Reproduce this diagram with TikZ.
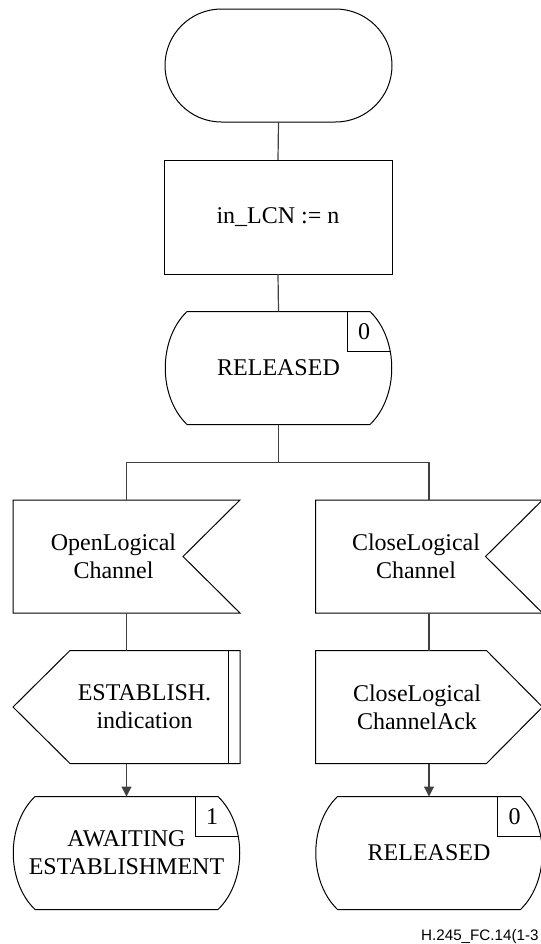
\documentclass[tikz,border=0pt]{standalone}
\usepackage{fontspec}
\setmainfont{Liberation Serif}
\newfontfamily\tagfont{Liberation Sans}
\usetikzlibrary{shapes.misc, arrows.meta, calc}

\newcommand{\stateoutline}[1]{($(#1.north west)+(22,0)$) -- ($(#1.north east)+(-22,0)$)
  .. controls ($(#1.north east)+(7,28)$) and ($(#1.south east)+(7,-28)$) .. ($(#1.south east)+(-22,0)$)
  -- ($(#1.south west)+(22,0)$)
  .. controls ($(#1.south west)+(-7,-28)$) and ($(#1.north west)+(-7,28)$) .. cycle}

\newcommand{\sdlstate}[4]{%
  \node[sdlbody] (#1) at (#2) {};
  \draw[sdlline] \stateoutline{#1};
  \begin{scope}
    \clip \stateoutline{#1};
    \draw[sdlline] ($(#1.north east)+(-45,0)$) rectangle ($(#1.north east)+(10,40)$);
  \end{scope}
  \node[sdltext] (#1-num) at ($(#1.north east)+(-28,20)$) {#4};
  \node[sdltext] (#1-txt) at (#1.center) {#3};
}

\newcommand{\sdlinput}[3]{%
  \node[sdlbody] (#1) at (#2) {};
  \draw[sdlline] (#1.north west) -- (#1.north east) -- ($(#1.east)+(-57,0)$)
    -- (#1.south east) -- (#1.south west) -- cycle;
  \node[sdltext] (#1-txt) at ($(#1.center)+(-13,0)$) {#3};
}

\newcommand{\sdloutleft}[3]{%
  \node[sdlbody] (#1) at (#2) {};
  \draw[sdlline] ($(#1.north west)+(57,0)$) -- (#1.north east) -- (#1.south east)
    -- ($(#1.south west)+(57,0)$) -- (#1.west) -- cycle;
  \draw[sdlline] ($(#1.north east)+(-12,0)$) -- ($(#1.south east)+(-12,0)$);
  \node[sdltext] (#1-txt) at ($(#1.center)+(18,0)$) {#3};
}

\newcommand{\sdloutright}[3]{%
  \node[sdlbody] (#1) at (#2) {};
  \draw[sdlline] (#1.north west) -- ($(#1.north east)+(-56,0)$) -- (#1.east)
    -- ($(#1.south east)+(-56,0)$) -- (#1.south west) -- cycle;
  \node[sdltext] (#1-txt) at ($(#1.center)+(-12,0)$) {#3};
}

\begin{document}
\begin{tikzpicture}[x=0.5pt, y=-0.5pt,
  sdlbody/.style={minimum width=113.5pt, minimum height=56.5pt, inner sep=0pt, outer sep=0pt},
  sdlline/.style={line width=0.5pt, black},
  sdlwire/.style={line width=0.6pt, black!75},
  sdltext/.style={align=center, font=\fontsize{12}{14}\selectfont, inner sep=0pt},
  sdlterm/.style={sdlbody, sdlline, draw, rounded rectangle},
  sdltask/.style={sdlbody, sdlline, draw, minimum width=114pt, minimum height=57pt, font=\fontsize{12}{14}\selectfont},
  sdltag/.style={font=\tagfont\fontsize{7.6}{9}\selectfont, inner sep=0pt}
]
  \useasboundingbox (0,0) rectangle (541,944);

  \node[sdlterm] (start) at (278.5,65.5) {};
  \node[sdltask] (lcn) at (278,217) {in\_LCN := n};
  \sdlstate{rel}{278.5,368}{RELEASED}{0}

  \sdlinput{openlc}{126.5,556.5}{OpenLogical\\Channel}
  \sdlinput{closelc}{429,556.5}{CloseLogical\\Channel}
  \sdloutleft{estind}{126.5,707}{ESTABLISH.\\indication}
  \sdloutright{closeack}{429,707}{CloseLogical\\ChannelAck}
  \sdlstate{await}{126.5,853}{AWAITING\\ESTABLISHMENT}{1}
  \sdlstate{relb}{429,853}{RELEASED}{0}

  \coordinate (fork) at ($(rel.south)+(0,38)$);
  \draw[sdlwire] (start.south) -- (lcn.north);
  \draw[sdlwire] (lcn.south) -- (rel.north);
  \draw[sdlwire] (rel.south) -- (fork);
  \draw[sdlwire] (openlc.north) |- (fork) -| (closelc.north);
  \draw[sdlwire] (openlc.south) -- (estind.north);
  \draw[sdlwire] (closelc.south) -- (closeack.north);
  \draw[sdlwire, -{Triangle[length=5pt, width=5pt]}] (estind.south) -- (await.north);
  \draw[sdlwire, -{Triangle[length=5pt, width=5pt]}] (closeack.south) -- (relb.north);

  \node[sdltag, anchor=east] (figtag) at (539,937) {H.245\_FC.14(1-3};
\end{tikzpicture}
\end{document}
